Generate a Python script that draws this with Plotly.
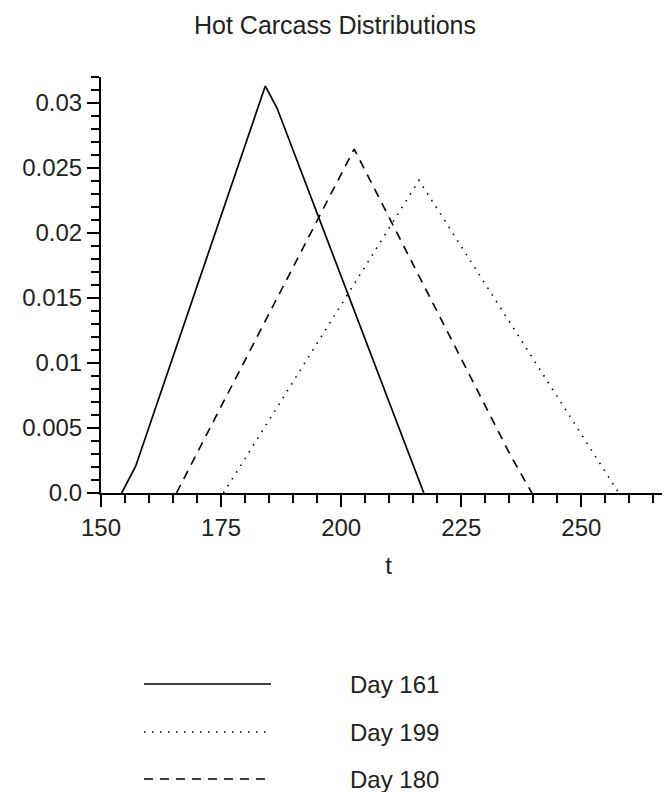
import plotly.graph_objects as go

# ---- data ----
day161_t = [154.3, 157.2, 184.2, 186.6, 217.2]
day161_p = [0.0, 0.00204, 0.0313, 0.02965, 0.0]

day199_t = [175.5, 216.2, 257.8]
day199_p = [0.0, 0.02405, 0.0]

day180_t = [165.7, 202.7, 235.2, 239.7]
day180_p = [0.0, 0.02646, 0.00293, 0.0]

series_names = ["Day 161", "Day 199", "Day 180"]
x_tick_vals = [150, 175, 200, 225, 250]
y_tick_vals = [0.0, 0.005, 0.01, 0.015, 0.02, 0.025, 0.03]
y_tick_text = ["0.0", "0.005", "0.01", "0.015", "0.02", "0.025", "0.03"]

FONT = "Liberation Sans"
TXT = "#222222"
W, H = 670, 792
L, R, T, B = 93, 2, 69, 307

dashes = ["solid", "1.5px,6.5px", "9px,7px"]
widths = [1.7, 1.6, 1.6]

fig = go.Figure()
for t, p, name, d, w in zip([day161_t, day199_t, day180_t],
                            [day161_p, day199_p, day180_p],
                            series_names, dashes, widths):
    fig.add_trace(go.Scatter(x=t, y=p, mode="lines", name=name,
                             line=dict(color="black", width=w, dash=d),
                             showlegend=False))

fig.update_layout(
    width=W, height=H,
    margin=dict(l=L, r=R, t=T, b=B),
    paper_bgcolor="white", plot_bgcolor="white",
    font=dict(family=FONT, size=24, color=TXT),
    title=dict(text="Hot Carcass Distributions", x=327 / W, xanchor="center",
               y=1 - 17 / H, yanchor="middle",
               font=dict(family=FONT, size=25, color=TXT)),
    xaxis=dict(range=[150, 269.7], showgrid=False, zeroline=False,
               showline=True, linecolor="black", linewidth=2,
               tickmode="array", tickvals=x_tick_vals,
               ticks="outside", ticklen=12, tickwidth=2, tickcolor="black",
               tickfont=dict(family=FONT, size=24, color=TXT),
               minor=dict(dtick=5, tick0=150, ticks="outside", ticklen=8,
                          tickwidth=2, tickcolor="black", showgrid=False),
               title=dict(text="t", standoff=17,
                          font=dict(family=FONT, size=24, color=TXT))),
    yaxis=dict(range=[0, 0.032], showgrid=False, zeroline=False,
               showline=True, linecolor="black", linewidth=2,
               tickmode="array", tickvals=y_tick_vals, ticktext=y_tick_text,
               ticks="outside", ticklen=12, tickwidth=2, tickcolor="black",
               tickfont=dict(family=FONT, size=24, color=TXT),
               minor=dict(dtick=0.001, tick0=0, ticks="outside", ticklen=8,
                          tickwidth=2, tickcolor="black", showgrid=False)),
)

# legend drawn manually (long line samples + labels), in paper coordinates
plot_w = W - L - R
plot_h = H - T - B
def px_to_paper(px, py):
    return (px - L) / plot_w, (H - B - py) / plot_h

legend_y = [676, 724, 771]
for name, d, w, ly in zip(series_names, dashes, widths, legend_y):
    x0, y0 = px_to_paper(136, ly)
    x1, _ = px_to_paper(263, ly)
    fig.add_shape(type="line", xref="paper", yref="paper",
                  x0=x0, x1=x1, y0=y0, y1=y0,
                  line=dict(color="black", width=w, dash=d))
    tx, _ = px_to_paper(340, ly)
    fig.add_annotation(xref="paper", yref="paper", x=tx, y=y0,
                       text=name, showarrow=False, xanchor="left",
                       yanchor="middle",
                       font=dict(family=FONT, size=24, color=TXT))

fig.write_html("out.html")
